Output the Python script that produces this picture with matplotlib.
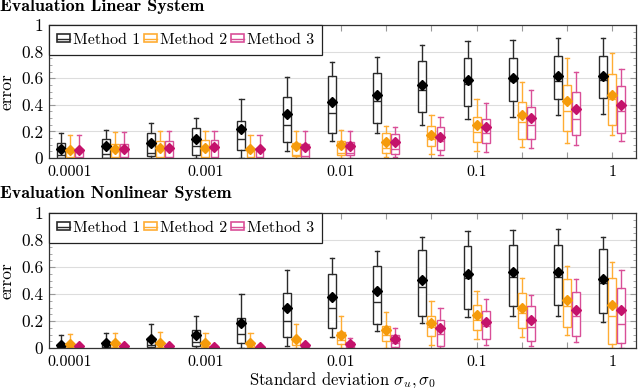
import matplotlib
matplotlib.use("Agg")
import matplotlib.pyplot as plt
import numpy as np
from matplotlib.patches import Rectangle
from matplotlib.lines import Line2D

# group positions (standard deviation) and tick labels
sigma = [0.0001, 0.000215, 0.000464, 0.001, 0.00215, 0.00464, 0.01,
         0.0215, 0.0464, 0.1, 0.215, 0.464, 1.0]
decade_ticks = [0.0001, 0.001, 0.01, 0.1, 1.0]
decade_labels = ["0.0001", "0.001", "0.01", "0.1", "1"]
methods = ["Method 1", "Method 2", "Method 3"]

# rows: (whisker low, q1, median, q3, whisker high, mean)
lin_m1 = [(0.0, 0.0, 0.02, 0.11, 0.19, 0.07), (0.0, 0.0, 0.03, 0.14, 0.21, 0.087),
          (0.0, 0.012, 0.04, 0.187, 0.26, 0.113), (0.0, 0.025, 0.087, 0.222, 0.30, 0.145),
          (0.0, 0.06, 0.14, 0.28, 0.44, 0.22), (0.05, 0.12, 0.25, 0.455, 0.61, 0.33),
          (0.125, 0.19, 0.34, 0.615, 0.72, 0.42), (0.19, 0.26, 0.425, 0.64, 0.76, 0.475),
          (0.25, 0.345, 0.51, 0.73, 0.85, 0.55), (0.295, 0.39, 0.56, 0.75, 0.88, 0.59),
          (0.31, 0.43, 0.58, 0.75, 0.89, 0.60), (0.32, 0.445, 0.58, 0.77, 0.905, 0.615),
          (0.33, 0.45, 0.585, 0.77, 0.90, 0.615)]
lin_m2 = [(0.0, 0.0, 0.005, 0.065, 0.175, 0.063), (0.0, 0.0, 0.005, 0.103, 0.192, 0.07),
          (0.0, 0.0, 0.005, 0.125, 0.20, 0.077), (0.0, 0.0, 0.005, 0.135, 0.20, 0.077),
          (0.0, 0.0, 0.005, 0.075, 0.175, 0.07), (0.0, 0.015, 0.02, 0.11, 0.205, 0.09),
          (0.0, 0.02, 0.04, 0.125, 0.21, 0.095), (0.01, 0.04, 0.075, 0.19, 0.24, 0.12),
          (0.03, 0.09, 0.14, 0.24, 0.32, 0.17), (0.05, 0.12, 0.195, 0.31, 0.44, 0.245),
          (0.08, 0.14, 0.27, 0.42, 0.57, 0.325), (0.11, 0.20, 0.35, 0.55, 0.75, 0.43),
          (0.17, 0.25, 0.44, 0.63, 0.79, 0.475)]
lin_m3 = [(0.0, 0.0, 0.005, 0.065, 0.175, 0.063), (0.0, 0.0, 0.005, 0.103, 0.192, 0.07),
          (0.0, 0.0, 0.005, 0.125, 0.20, 0.077), (0.0, 0.0, 0.005, 0.135, 0.20, 0.08),
          (0.0, 0.0, 0.005, 0.075, 0.175, 0.07), (0.0, 0.0, 0.015, 0.105, 0.20, 0.08),
          (0.0, 0.02, 0.04, 0.12, 0.205, 0.09), (0.01, 0.03, 0.07, 0.18, 0.23, 0.12),
          (0.025, 0.06, 0.13, 0.23, 0.31, 0.16), (0.045, 0.11, 0.19, 0.29, 0.41, 0.23),
          (0.075, 0.14, 0.25, 0.38, 0.515, 0.30), (0.10, 0.17, 0.295, 0.50, 0.645, 0.37),
          (0.125, 0.185, 0.35, 0.54, 0.67, 0.40)]

nonlin_m1 = [(0.0, 0.0, 0.005, 0.02, 0.10, 0.025), (0.0, 0.0, 0.01, 0.03, 0.11, 0.035),
             (0.0, 0.005, 0.025, 0.075, 0.175, 0.065), (0.0, 0.015, 0.045, 0.135, 0.24, 0.10),
             (0.0, 0.04, 0.105, 0.22, 0.40, 0.185), (0.015, 0.085, 0.20, 0.41, 0.58, 0.30),
             (0.08, 0.145, 0.295, 0.55, 0.665, 0.38), (0.125, 0.18, 0.34, 0.61, 0.72, 0.425),
             (0.185, 0.24, 0.45, 0.725, 0.825, 0.505), (0.23, 0.29, 0.515, 0.755, 0.865, 0.55),
             (0.24, 0.31, 0.525, 0.76, 0.875, 0.56), (0.24, 0.32, 0.525, 0.76, 0.885, 0.565),
             (0.195, 0.26, 0.485, 0.735, 0.825, 0.51)]
nonlin_m2 = [(0.0, 0.0, 0.0, 0.01, 0.105, 0.03), (0.0, 0.0, 0.0, 0.01, 0.11, 0.035),
             (0.0, 0.0, 0.0, 0.01, 0.12, 0.04), (0.0, 0.0, 0.005, 0.015, 0.11, 0.04),
             (0.0, 0.0, 0.01, 0.03, 0.11, 0.04), (0.0, 0.02, 0.05, 0.065, 0.175, 0.065),
             (0.0, 0.03, 0.06, 0.115, 0.235, 0.10), (0.0, 0.05, 0.10, 0.16, 0.265, 0.135),
             (0.022, 0.09, 0.155, 0.235, 0.35, 0.185), (0.067, 0.13, 0.21, 0.32, 0.42, 0.245),
             (0.085, 0.15, 0.26, 0.41, 0.515, 0.30), (0.095, 0.155, 0.31, 0.51, 0.61, 0.355),
             (0.0, 0.03, 0.235, 0.515, 0.635, 0.32)]
nonlin_m3 = [(0.0, 0.0, 0.0, 0.005, 0.025, 0.012), (0.0, 0.0, 0.0, 0.005, 0.025, 0.012),
             (0.0, 0.0, 0.0, 0.005, 0.027, 0.012), (0.0, 0.0, 0.0, 0.005, 0.022, 0.01),
             (0.0, 0.0, 0.0, 0.005, 0.022, 0.01), (0.0, 0.0, 0.005, 0.015, 0.04, 0.025),
             (0.0, 0.0, 0.01, 0.045, 0.075, 0.032), (0.0, 0.007, 0.037, 0.10, 0.15, 0.067),
             (0.0, 0.017, 0.105, 0.21, 0.30, 0.145), (0.025, 0.065, 0.165, 0.275, 0.36, 0.195),
             (0.017, 0.05, 0.155, 0.31, 0.39, 0.205), (0.047, 0.09, 0.235, 0.415, 0.51, 0.285),
             (0.0, 0.04, 0.175, 0.445, 0.58, 0.28)]

edge_colors = ["#2a2a2a", "#ffad33", "#d94f98"]
mean_colors = ["#000000", "#f59b0c", "#c4126b"]

plt.rcParams.update({
    "font.family": "cmr10",
    "mathtext.fontset": "cm",
    "axes.unicode_minus": False,
    "font.size": 11,
    "axes.linewidth": 0.9,
    "axes.edgecolor": "#333333",
})

fig = plt.figure(figsize=(6.4, 3.88), dpi=100)
ax_top = fig.add_axes([49 / 640, 1 - 158 / 388, 587 / 640, 133 / 388])
ax_bot = fig.add_axes([49 / 640, 1 - 348 / 388, 587 / 640, 135 / 388])

log_pos = np.log10(sigma)
offset = 0.067
width = 0.058


def draw_panel(ax, series):
    for i, rows in enumerate(series):
        stats = []
        for r in rows:
            stats.append({"whislo": r[0], "q1": r[1], "med": r[2], "q3": r[3],
                          "whishi": r[4], "mean": r[5], "fliers": []})
        col = edge_colors[i]
        ax.bxp(stats, positions=log_pos + (i - 1) * offset, widths=width,
               capwidths=width * 0.55, showmeans=True, showfliers=False,
               manage_ticks=False, patch_artist=True,
               boxprops=dict(facecolor="white", edgecolor=col, linewidth=1.0),
               whiskerprops=dict(color=col, linewidth=1.0),
               capprops=dict(color=col, linewidth=1.0),
               medianprops=dict(color=col, linewidth=1.0),
               meanprops=dict(marker="D", markersize=5, markerfacecolor=mean_colors[i],
                              markeredgecolor=mean_colors[i]))
    ax.set_xlim(-4.153, 0.175)
    ax.set_ylim(0, 1)
    ax.set_xticks(log_pos, [decade_labels[decade_ticks.index(s)] if s in decade_ticks else ""
                            for s in sigma])
    ax.set_yticks([0, 0.2, 0.4, 0.6, 0.8, 1], ["0", "0.2", "0.4", "0.6", "0.8", "1"])
    ax.set_yticks(np.arange(0, 1.0001, 0.05), minor=True)
    ax.tick_params(axis="both", which="both", direction="in", top=True, right=True,
                   color="#999999")
    ax.tick_params(axis="both", which="major", length=4)
    ax.tick_params(axis="y", which="major", labelsize=12.5, pad=4)
    ax.tick_params(axis="y", which="minor", length=2)
    ax.tick_params(axis="x", which="major", pad=5, labelsize=11.5)
    ax.grid(axis="y", which="major", color="#dddddd", linewidth=0.8)
    ax.set_axisbelow(True)
    ax.set_ylabel("error", fontsize=12.5, labelpad=5)
    handles = []
    for i in range(3):
        handles.append((Rectangle((0, 0), 1, 1, facecolor="white", edgecolor=edge_colors[i],
                                  linewidth=1.2),
                        Line2D([], [], color=edge_colors[i], linewidth=1.0)))
    leg = ax.legend(handles, methods, loc="upper left", ncol=3, borderaxespad=0,
                    fancybox=False, framealpha=1, edgecolor="#222222", fontsize=11.5,
                    handlelength=0.8, handleheight=0.35, handletextpad=0.2,
                    columnspacing=0.25, borderpad=0.5)
    leg.get_frame().set_linewidth(0.9)


draw_panel(ax_top, [lin_m1, lin_m2, lin_m3])
draw_panel(ax_bot, [nonlin_m1, nonlin_m2, nonlin_m3])

fig.text(0.0, 1 - 11 / 388, "Evaluation Linear System", family="cmb10", fontsize=13,
         va="baseline", ha="left")
fig.text(0.0, 1 - 198 / 388, "Evaluation Nonlinear System", family="cmb10", fontsize=13,
         va="baseline", ha="left")
fig.text(342.5 / 640, 1 - 384 / 388, r"Standard deviation $\sigma_u, \sigma_0$",
         fontsize=12, ha="center", va="baseline")

fig.savefig("out.png", dpi=100, facecolor="white")
